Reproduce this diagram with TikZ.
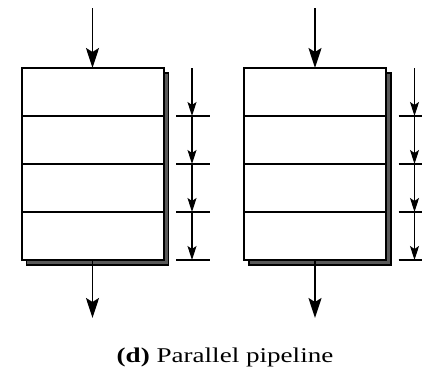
\documentclass[tikz,border=0pt]{standalone}
\usepackage{fontspec}
\setmainfont{Liberation Serif}
\usetikzlibrary{arrows.meta, positioning, calc}

\begin{document}
\begin{tikzpicture}[x=1pt, y=-1pt,
    big/.style={-{Stealth[length=20pt, width=13pt, inset=4pt]}, line width=1.8pt},
    small/.style={-{Stealth[length=14pt, width=9pt, inset=3pt]}, line width=1.2pt},
    tick/.style={line width=1.2pt},
    stage/.style={draw, line width=2pt, fill=white, minimum width=142pt,
      minimum height=48pt, inner sep=0pt, outer sep=0pt},
    shadowbox/.style={draw, line width=1.2pt, fill=black!65}]

    \useasboundingbox (0,0) rectangle (422,370);

    % Shadows behind the two pipelines
    \draw[shadowbox] (26.5,73) rectangle (168.5,265);
    \draw[shadowbox] (249,73) rectangle (391,265);

    \foreach \p/\cx in {a/92.5, b/315} {
      % Four stages stacked
      \node[stage] (\p1) at (\cx,92) {};
      \node[stage, below=0pt of \p1] (\p2) {};
      \node[stage, below=0pt of \p2] (\p3) {};
      \node[stage, below=0pt of \p3] (\p4) {};

      % Input and output
      \coordinate[above=60pt of \p1.north] (in\p);
      \coordinate[below=58pt of \p4.south] (out\p);
      \draw[big] (in\p) -- (\p1.north);
      \draw[big] (\p4.south) -- (out\p);

      % Stage timing marks
      \coordinate (t\p0) at ($(\p1.north east)+(28.5,0)$);
      \foreach \k in {1,2,3,4} {
        \coordinate (t\p\k) at ($(\p\k.south east)+(28.5,0)$);
        \draw[tick] ($(t\p\k)+(-16,0)$) -- ($(t\p\k)+(18,0)$);
      }
      \draw[small] (t\p0) -- (t\p1);
      \draw[small] (t\p1) -- (t\p2);
      \draw[small] (t\p2) -- (t\p3);
      \draw[small] (t\p3) -- (t\p4);
    }

    % Caption
    \node[anchor=base, inner sep=0pt, xscale=1.29, transform shape,
      font=\fontsize{21}{25}\selectfont] (cap) at (225,362)
      {\textbf{(d)} Parallel pipeline};

\end{tikzpicture}
\end{document}
